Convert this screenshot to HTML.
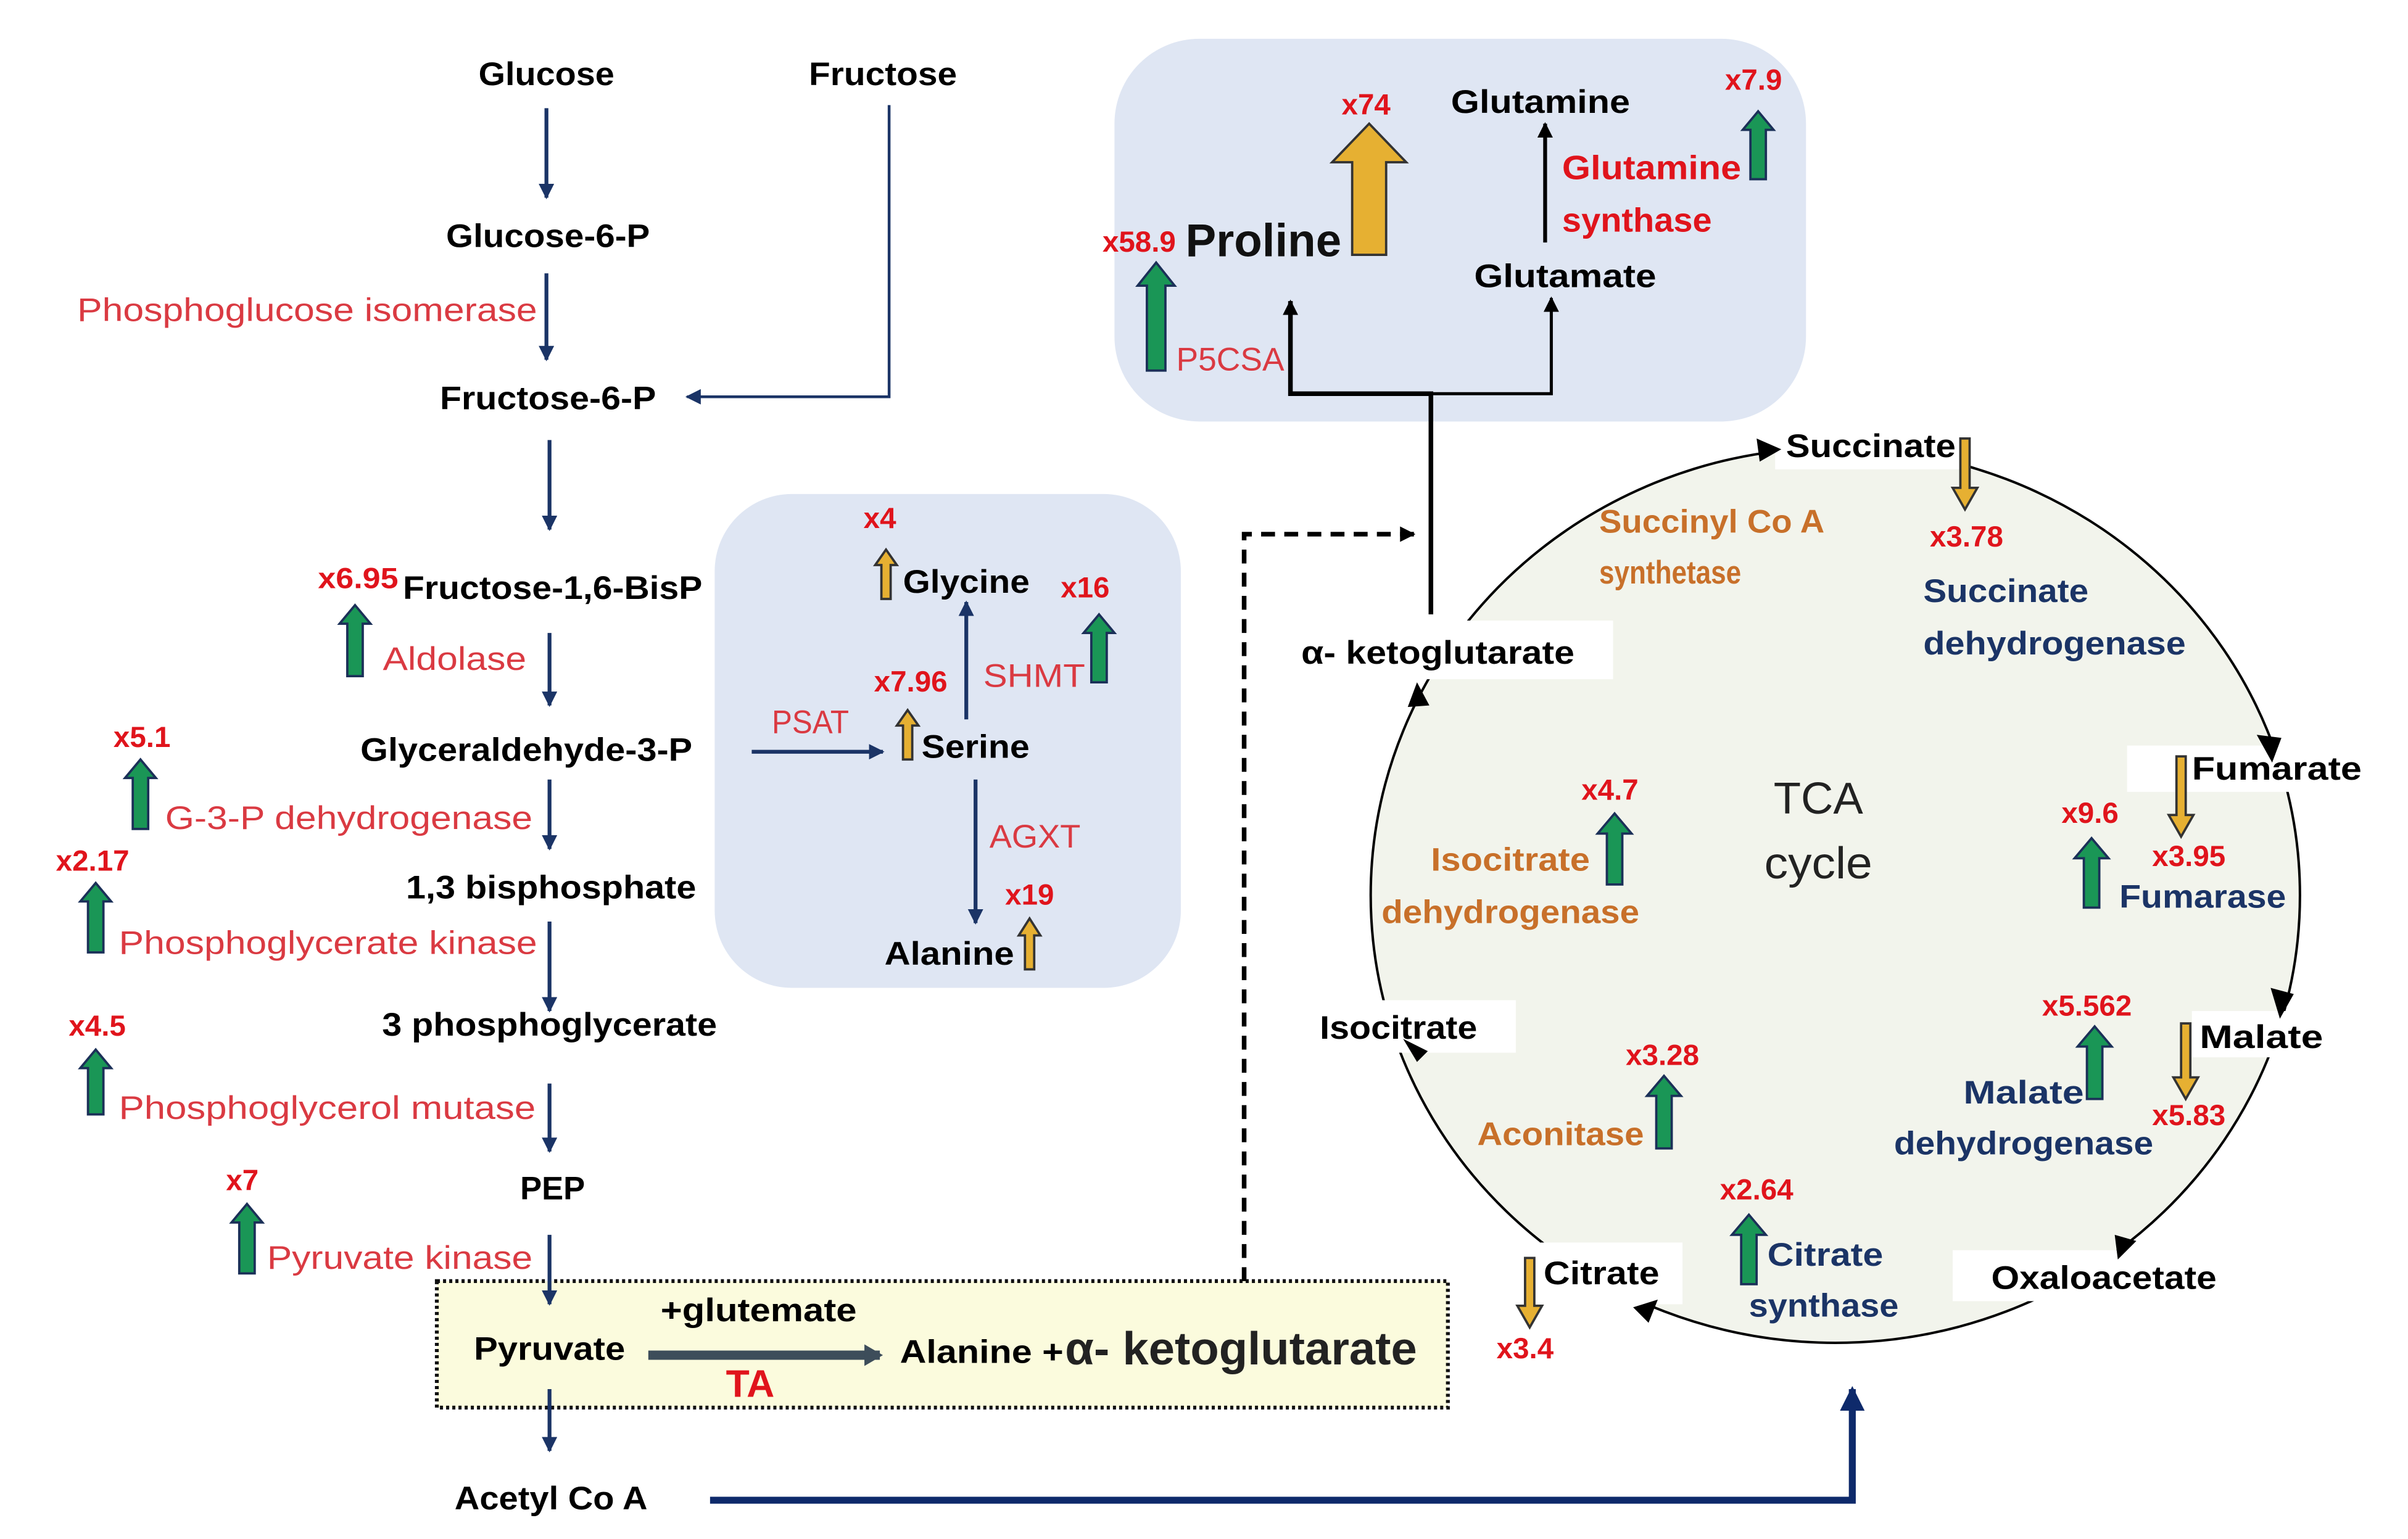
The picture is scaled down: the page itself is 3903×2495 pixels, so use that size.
<!DOCTYPE html>
<html><head><meta charset="utf-8"><style>
html,body{margin:0;padding:0;background:#fff;}
svg{display:block;}
text{font-family:"Liberation Sans",sans-serif;}
.b{font-weight:bold;fill:#000;font-size:21px;}
.e{fill:#da3a42;font-size:21px;}
.n{fill:#e0141c;font-weight:bold;font-size:19px;}
.o{fill:#c8702a;font-size:21px;font-weight:bold;}
.v{fill:#1b3466;font-size:21px;font-weight:bold;}
.g{fill:#1a9656;stroke:#1b3058;stroke-width:1.5;}
.y{fill:#e6b032;stroke:#333;stroke-width:1.5;}
</style></head><body>
<svg width="3903" height="2495" viewBox="0 0 1560 997" xmlns="http://www.w3.org/2000/svg">
<defs>
<marker id="an" markerWidth="10" markerHeight="10" refX="9" refY="5" orient="auto" markerUnits="userSpaceOnUse"><path d="M0,0 L10,5 L0,10 z" fill="#1b3466"/></marker>
<marker id="as" markerWidth="10" markerHeight="10" refX="9" refY="5" orient="auto" markerUnits="userSpaceOnUse"><path d="M0,0 L10,5 L0,10 z" fill="#000"/></marker>
<marker id="ag" markerWidth="12" markerHeight="14" refX="10" refY="7" orient="auto" markerUnits="userSpaceOnUse"><path d="M0,0 L12,7 L0,14 z" fill="#3d4d5a"/></marker>
<marker id="abig" markerWidth="16" markerHeight="16" refX="14" refY="8" orient="auto" markerUnits="userSpaceOnUse"><path d="M0,0 L16,8 L0,16 z" fill="#0e2a6b"/></marker>
</defs>

<rect x="722" y="25" width="448" height="248" rx="55" fill="#dfe6f3"/>
<rect x="463" y="320" width="302" height="320" rx="50" fill="#dfe6f3"/>
<rect x="283" y="830" width="655" height="82" fill="#fbfbdd" stroke="#111" stroke-width="2.5" stroke-dasharray="2,2"/>

<g stroke="#1b3466" stroke-width="2.5" marker-end="url(#an)">
<line x1="354" y1="70" x2="354" y2="128"/>
<line x1="354" y1="177" x2="354" y2="233"/>
<line x1="356" y1="285" x2="356" y2="343"/>
<line x1="356" y1="410" x2="356" y2="457"/>
<line x1="356" y1="505" x2="356" y2="550"/>
<line x1="356" y1="597" x2="356" y2="655"/>
<line x1="356" y1="702" x2="356" y2="746"/>
<line x1="356" y1="800" x2="356" y2="845"/>
<line x1="356" y1="900" x2="356" y2="940"/>
<line x1="487" y1="487" x2="572" y2="487"/>
<line x1="626" y1="466" x2="626" y2="390"/>
<line x1="632" y1="505" x2="632" y2="598"/>
</g>
<polyline points="576,68 576,257 445,257" fill="none" stroke="#1b3466" stroke-width="1.8" marker-end="url(#an)"/>
<line x1="420" y1="878" x2="570" y2="878" stroke="#3d4d5a" stroke-width="6" marker-end="url(#ag)"/>
<polyline points="460,972 1200,972 1200,900" fill="none" stroke="#0e2a6b" stroke-width="4.5" marker-end="url(#abig)"/>
<polyline points="806,830 806,346 916,346" fill="none" stroke="#000" stroke-width="3" stroke-dasharray="9,6" marker-end="url(#as)"/>

<polyline points="927,398 927,255 836,255 836,195" fill="none" stroke="#000" stroke-width="3" marker-end="url(#as)"/>
<polyline points="927,255 1005,255 1005,193" fill="none" stroke="#000" stroke-width="2" marker-end="url(#as)"/>
<line x1="1001" y1="157" x2="1001" y2="80" stroke="#000" stroke-width="2.5" marker-end="url(#as)"/>

<ellipse cx="1189" cy="580" rx="301" ry="290" fill="#f2f4ec" stroke="#000" stroke-width="1.6"/>
<g fill="#fff">
<rect x="1150" y="272" width="120" height="32"/>
<rect x="1378" y="483" width="152" height="30"/>
<rect x="1420" y="655" width="90" height="30"/>
<rect x="1265" y="810" width="175" height="33"/>
<rect x="998" y="805" width="92" height="40"/>
<rect x="852" y="648" width="130" height="34"/>
<rect x="838" y="402" width="207" height="38"/>
</g>
<g fill="#000">
<path d="M1138,284 L1154,291 L1140,299 z"/>
<path d="M1462,476 L1478,478 L1472,494 z"/>
<path d="M1471,640 L1486,644 L1477,660 z"/>
<path d="M1384,804 L1372,816 L1370,800 z"/>
<path d="M1074,842 L1058,847 L1068,857 z"/>
<path d="M918,688 L909,673 L925,681 z"/>
<path d="M912,458 L918,442 L926,457 z"/>
</g>

<g class="g">
<polygon points="225,438 225,404 220,404 230,392 240,404 235,404 235,438"/>
<polygon points="86,537 86,504 81,504 91,492 101,504 96,504 96,537"/>
<polygon points="57,617 57,584 52,584 62,572 72,584 67,584 67,617"/>
<polygon points="57,722 57,692 52,692 62,680 72,692 67,692 67,722"/>
<polygon points="155,825 155,792 150,792 160,780 170,792 165,792 165,825"/>
<polygon points="707,442 707,410 702,410 712,398 722,410 717,410 717,442"/>
<polygon points="743,240 743,185 737,185 749,170 761,185 755,185 755,240"/>
<polygon points="1134,116 1134,84 1129,84 1139,72 1149,84 1144,84 1144,116"/>
<polygon points="1041,573 1041,540 1035,540 1046,527 1057,540 1051,540 1051,573"/>
<polygon points="1350,588 1350,556 1344,556 1355,543 1366,556 1360,556 1360,588"/>
<polygon points="1352,712 1352,678 1346,678 1357,665 1368,678 1362,678 1362,712"/>
<polygon points="1073,744 1073,710 1067,710 1078,697 1089,710 1083,710 1083,744"/>
<polygon points="1128,832 1128,800 1122,800 1133,787 1144,800 1138,800 1138,832"/>
</g>
<g class="y">
<polygon points="571,388 571,366 567,366 574,356 581,366 577,366 577,388"/>
<polygon points="585,492 585,470 581,470 588,460 595,470 591,470 591,492"/>
<polygon points="664,628 664,606 660,606 667,595 674,606 670,606 670,628"/>
<polygon points="876,165 876,105 863,105 887,80 911,105 898,105 898,165"/>
<polygon points="1270,284 1270,316 1265,316 1273,330 1281,316 1276,316 1276,284"/>
<polygon points="1410,490 1410,528 1405,528 1413,542 1421,528 1416,528 1416,490"/>
<polygon points="1413,663 1413,698 1408,698 1416,712 1424,698 1419,698 1419,663"/>
<polygon points="988,815 988,846 983,846 991,860 999,846 994,846 994,815"/>
</g>

<g class="b" text-anchor="middle">
<text x="354" y="55" textLength="88" lengthAdjust="spacingAndGlyphs">Glucose</text>
<text x="572" y="55" textLength="96" lengthAdjust="spacingAndGlyphs">Fructose</text>
<text x="355" y="160" textLength="132" lengthAdjust="spacingAndGlyphs">Glucose-6-P</text>
<text x="355" y="265" textLength="140" lengthAdjust="spacingAndGlyphs">Fructose-6-P</text>
<text x="358" y="388" textLength="194" lengthAdjust="spacingAndGlyphs">Fructose-1,6-BisP</text>
<text x="341" y="493" textLength="215" lengthAdjust="spacingAndGlyphs">Glyceraldehyde-3-P</text>
<text x="357" y="582" textLength="188" lengthAdjust="spacingAndGlyphs">1,3 bisphosphate</text>
<text x="356" y="671" textLength="217" lengthAdjust="spacingAndGlyphs">3 phosphoglycerate</text>
<text x="358" y="777" textLength="42" lengthAdjust="spacingAndGlyphs">PEP</text>
<text x="357" y="978" textLength="125" lengthAdjust="spacingAndGlyphs">Acetyl Co A</text>
</g>
<g class="e" text-anchor="end">
<text x="348" y="208" textLength="298" lengthAdjust="spacingAndGlyphs">Phosphoglucose isomerase</text>
<text x="345" y="537" textLength="238" lengthAdjust="spacingAndGlyphs">G-3-P dehydrogenase</text>
<text x="348" y="618" textLength="271" lengthAdjust="spacingAndGlyphs">Phosphoglycerate kinase</text>
<text x="347" y="725" textLength="270" lengthAdjust="spacingAndGlyphs">Phosphoglycerol mutase</text>
<text x="345" y="822" textLength="172" lengthAdjust="spacingAndGlyphs">Pyruvate kinase</text>
</g>
<text class="e" x="248" y="434" textLength="93" lengthAdjust="spacingAndGlyphs">Aldolase</text>
<g class="n" text-anchor="middle">
<text x="232" y="381" textLength="52" lengthAdjust="spacingAndGlyphs">x6.95</text>
<text x="92" y="484">x5.1</text>
<text x="60" y="564">x2.17</text>
<text x="63" y="671">x4.5</text>
<text x="157" y="771">x7</text>
</g>

<text class="b" x="356" y="881" text-anchor="middle" fill="#222" textLength="98" lengthAdjust="spacingAndGlyphs">Pyruvate</text>
<text class="b" x="428" y="856" textLength="127" lengthAdjust="spacingAndGlyphs">+glutemate</text>
<text x="486" y="905" text-anchor="middle" fill="#e0141c" font-size="25" font-weight="bold">TA</text>
<text class="b" x="583" y="883" textLength="106" lengthAdjust="spacingAndGlyphs">Alanine +</text>
<text x="690" y="884" font-size="30" font-weight="bold" fill="#222" textLength="228" lengthAdjust="spacingAndGlyphs">α- ketoglutarate</text>

<g class="b">
<text x="585" y="384" textLength="82" lengthAdjust="spacingAndGlyphs">Glycine</text>
<text x="597" y="491" textLength="70" lengthAdjust="spacingAndGlyphs">Serine</text>
<text x="573" y="625" textLength="84" lengthAdjust="spacingAndGlyphs">Alanine</text>
</g>
<g class="e">
<text x="637" y="445" textLength="66" lengthAdjust="spacingAndGlyphs">SHMT</text>
<text x="500" y="475" textLength="50" lengthAdjust="spacingAndGlyphs">PSAT</text>
<text x="641" y="549" textLength="59" lengthAdjust="spacingAndGlyphs">AGXT</text>
<text x="762" y="240" textLength="70" lengthAdjust="spacingAndGlyphs">P5CSA</text>
</g>
<g class="n" text-anchor="middle">
<text x="570" y="342">x4</text>
<text x="703" y="387">x16</text>
<text x="590" y="448">x7.96</text>
<text x="667" y="586">x19</text>
<text x="738" y="163">x58.9</text>
<text x="885" y="74">x74</text>
<text x="1136" y="58">x7.9</text>
</g>

<text x="768" y="166" font-size="30" font-weight="bold" fill="#111" textLength="101" lengthAdjust="spacingAndGlyphs">Proline</text>
<text class="b" x="940" y="73" textLength="116" lengthAdjust="spacingAndGlyphs">Glutamine</text>
<text class="b" x="955" y="186" textLength="118" lengthAdjust="spacingAndGlyphs">Glutamate</text>
<text x="1012" y="116" fill="#e0141c" font-size="22" font-weight="bold" textLength="116" lengthAdjust="spacingAndGlyphs">Glutamine</text>
<text x="1012" y="150" fill="#e0141c" font-size="22" font-weight="bold" textLength="97" lengthAdjust="spacingAndGlyphs">synthase</text>

<g class="b">
<text x="1157" y="296" textLength="110" lengthAdjust="spacingAndGlyphs">Succinate</text>
<text x="1420" y="505" textLength="110" lengthAdjust="spacingAndGlyphs">Fumarate</text>
<text x="1425" y="679" textLength="80" lengthAdjust="spacingAndGlyphs">Malate</text>
<text x="1290" y="835" textLength="146" lengthAdjust="spacingAndGlyphs">Oxaloacetate</text>
<text x="1000" y="832" textLength="75" lengthAdjust="spacingAndGlyphs">Citrate</text>
<text x="855" y="673" textLength="102" lengthAdjust="spacingAndGlyphs">Isocitrate</text>
<text x="843" y="430" textLength="177" lengthAdjust="spacingAndGlyphs">α- ketoglutarate</text>
</g>
<text x="1178" y="527" text-anchor="middle" font-size="29" fill="#222" textLength="58" lengthAdjust="spacingAndGlyphs">TCA</text>
<text x="1178" y="569" text-anchor="middle" font-size="29" fill="#222" textLength="70" lengthAdjust="spacingAndGlyphs">cycle</text>
<g class="o">
<text x="1036" y="345" textLength="146" lengthAdjust="spacingAndGlyphs">Succinyl Co A</text>
<text x="1036" y="378" textLength="92" lengthAdjust="spacingAndGlyphs">synthetase</text>
<text x="927" y="564" textLength="103" lengthAdjust="spacingAndGlyphs">Isocitrate</text>
<text x="895" y="598" textLength="167" lengthAdjust="spacingAndGlyphs">dehydrogenase</text>
<text x="957" y="742" textLength="108" lengthAdjust="spacingAndGlyphs">Aconitase</text>
</g>
<g class="v">
<text x="1246" y="390" textLength="107" lengthAdjust="spacingAndGlyphs">Succinate</text>
<text x="1246" y="424" textLength="170" lengthAdjust="spacingAndGlyphs">dehydrogenase</text>
<text x="1373" y="588" textLength="108" lengthAdjust="spacingAndGlyphs">Fumarase</text>
<text x="1272" y="715" textLength="78" lengthAdjust="spacingAndGlyphs">Malate</text>
<text x="1227" y="748" textLength="168" lengthAdjust="spacingAndGlyphs">dehydrogenase</text>
<text x="1145" y="820" textLength="75" lengthAdjust="spacingAndGlyphs">Citrate</text>
<text x="1133" y="853" textLength="97" lengthAdjust="spacingAndGlyphs">synthase</text>
</g>
<g class="n" text-anchor="middle">
<text x="1274" y="354">x3.78</text>
<text x="1043" y="518">x4.7</text>
<text x="1354" y="533">x9.6</text>
<text x="1418" y="561">x3.95</text>
<text x="1352" y="658">x5.562</text>
<text x="1418" y="729">x5.83</text>
<text x="1077" y="690">x3.28</text>
<text x="1138" y="777">x2.64</text>
<text x="988" y="880">x3.4</text>
</g>
</svg>
</body></html>
